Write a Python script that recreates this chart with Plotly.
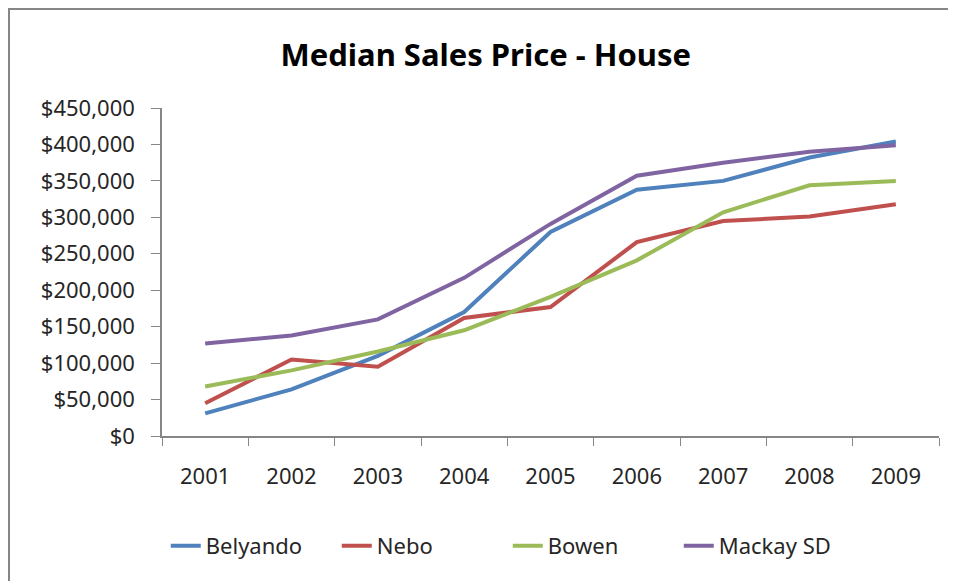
import plotly.graph_objects as go

years = ["2001", "2002", "2003", "2004", "2005", "2006", "2007", "2008", "2009"]
belyando = [31000, 64000, 110000, 170000, 280000, 338000, 350000, 382000, 404000]
nebo = [45000, 105000, 95000, 162000, 177000, 266000, 295000, 301000, 318000]
bowen = [68000, 90000, 116000, 145000, 191000, 241000, 307000, 344000, 350000]
mackay = [127000, 138000, 160000, 217000, 291000, 357000, 375000, 390000, 399000]

series = [
    ("Belyando", belyando, "#4F81BD"),
    ("Nebo", nebo, "#C0504D"),
    ("Bowen", bowen, "#9BBB59"),
    ("Mackay SD", mackay, "#8064A2"),
]

font_family = "Noto Sans, Open Sans, sans-serif"

fig = go.Figure()
for name, vals, color in series:
    fig.add_trace(go.Scatter(x=years, y=vals, mode="lines", name=name,
                             line=dict(color=color, width=4)))

fig.update_layout(
    width=948, height=573,
    margin=dict(l=154, r=17, t=100, b=145),
    paper_bgcolor="white", plot_bgcolor="white",
    font=dict(family=font_family, size=22, color="#262626"),
    title=dict(text="<b>Median Sales Price - House</b>", x=0.504, xanchor="center",
               y=0.918, yanchor="middle", font=dict(size=31, family=font_family, color="#000000")),
    showlegend=True,
    legend=dict(orientation="h", x=0.445, xanchor="center", y=-0.335, yanchor="middle",
                font=dict(size=22), tracegroupgap=0, entrywidth=126, entrywidthmode="pixels"),
    shapes=[dict(type="rect", xref="paper", yref="paper",
                 x0=-0.1969, x1=2, y0=-2, y1=1.3018,
                 line=dict(color="#868686", width=2), fillcolor="rgba(0,0,0,0)", layer="below")],
)

fig.update_xaxes(type="category", range=[-0.5, 8.5], showgrid=False, showline=True,
                 linecolor="#868686", linewidth=1.5, ticks="outside", ticklen=8,
                 tickcolor="#868686", tickson="boundaries", ticklabelstandoff=20,
                 zeroline=False)
fig.update_yaxes(range=[0, 450000], dtick=50000, tickformat="$,.0f", showgrid=False,
                 showline=True, linecolor="#868686", linewidth=1.5, ticks="outside",
                 ticklen=9, tickcolor="#868686", zeroline=False, ticklabelstandoff=12)

fig.write_html("out.html")
